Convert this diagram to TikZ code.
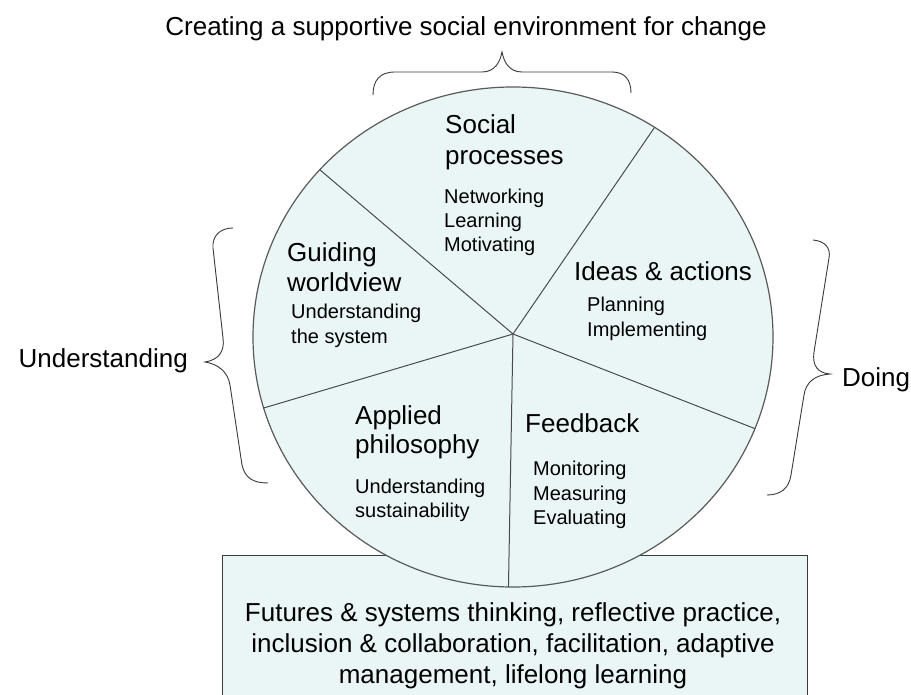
\documentclass[tikz,border=0pt]{standalone}
\usepackage{fontspec}
\setmainfont{Liberation Sans}
\usetikzlibrary{calc}
\definecolor{pie}{HTML}{EAF6F6}
\definecolor{rim}{HTML}{5A5A5A}
\definecolor{spoke}{HTML}{4A4A4A}
\definecolor{bracecol}{HTML}{3A3A3A}
\tikzset{
  big/.style={font=\fontsize{26}{31}\selectfont, inner sep=0pt, anchor=base west},
  small/.style={font=\fontsize{20}{24}\selectfont, inner sep=0pt, anchor=base west},
  spokeline/.style={draw=spoke, line width=1pt},
  bracket/.style={draw=bracecol, line width=0.9pt},
}
\begin{document}
\begin{tikzpicture}[x=1pt,y=1pt]
\clip (0,0) rectangle (911,-695);
\fill[white] (0,0) rectangle (911,-695);

% base box of skills, running off the bottom edge
\draw[fill=pie, draw=bracecol, line width=1pt] (222,-555) rectangle (807,-710);

% the wheel
\coordinate (o) at (513,-337);
\coordinate (c) at (513,-334);
\filldraw[fill=pie, draw=rim, line width=1.2pt] (o) ellipse [x radius=260, y radius=250];
\coordinate (pnw) at ($(o)+(138:260 and 250)$);
\coordinate (pne) at ($(o)+(57:260 and 250)$);
\coordinate (pe)  at ($(o)+(-21.5:260 and 250)$);
\coordinate (ps)  at ($(o)+(-91:260 and 250)$);
\coordinate (pw)  at ($(o)+(196.5:260 and 250)$);
\foreach \p in {pnw,pne,pe,ps,pw} \draw[spokeline] (c) -- (\p);

% segment labels
\node[big] (soc1) at (445,-134) {Social};
\node[big] (soc2) at (445,-165) {processes};
\node[small] (soc3) at (444,-204) {Networking};
\node[small] (soc4) at (444,-228) {Learning};
\node[small] (soc5) at (444,-252) {Motivating};

\node[big] (gui1) at (287,-262) {Guiding};
\node[big] (gui2) at (287,-292) {worldview};
\node[small] (gui3) at (291,-319) {Understanding};
\node[small] (gui4) at (291,-343) {the system};

\node[big] (ide1) at (574,-281) {Ideas \& actions};
\node[small] (ide2) at (587,-312) {Planning};
\node[small] (ide3) at (587,-336) {Implementing};

\node[big] (app1) at (355,-424) {Applied};
\node[big] (app2) at (355,-453) {philosophy};
\node[small] (app3) at (355,-493) {Understanding};
\node[small] (app4) at (355,-517) {sustainability};

\node[big] (fee1) at (525,-432) {Feedback};
\node[small] (fee2) at (533,-475) {Monitoring};
\node[small] (fee3) at (533,-500) {Measuring};
\node[small] (fee4) at (533,-524) {Evaluating};

% box text
\node[big, anchor=base] (bx1) at (513,-621) {Futures \& systems thinking, reflective practice,};
\node[big, anchor=base] (bx2) at (513,-652) {inclusion \& collaboration, facilitation, adaptive};
\node[big, anchor=base] (bx3) at (513,-683) {management, lifelong learning};

% braces and their captions
\draw[bracket] (373,-95) .. controls (373,-80) and (380,-72) .. (395,-72)
  -- (482,-72) .. controls (495,-72) and (500,-62) .. (502,-52)
  .. controls (504,-62) and (509,-72) .. (522,-72)
  -- (612,-72) .. controls (625,-72) and (631,-80) .. (631,-93);
\node[big, anchor=base] (ttl) at (466,-36) {Creating a supportive social environment for change};

\draw[bracket] (233,-228) .. controls (220,-228) and (212,-236) .. (213,-248)
  -- (223,-338) .. controls (225,-352) and (218,-360) .. (205,-362)
  .. controls (218,-364) and (228,-372) .. (230,-385)
  -- (242,-465) .. controls (245,-478) and (253,-483) .. (268,-483);
\node[big, anchor=base east] (und) at (188,-367) {Understanding};

\draw[bracket] (813,-240) .. controls (825,-241) and (831,-248) .. (829,-258)
  -- (814,-352) .. controls (812,-366) and (818,-373) .. (830,-374)
  .. controls (815,-375) and (806,-382) .. (804,-395)
  -- (791,-475) .. controls (789,-488) and (781,-495) .. (767,-495);
\node[big] (doi) at (842,-386) {Doing};
\end{tikzpicture}
\end{document}
